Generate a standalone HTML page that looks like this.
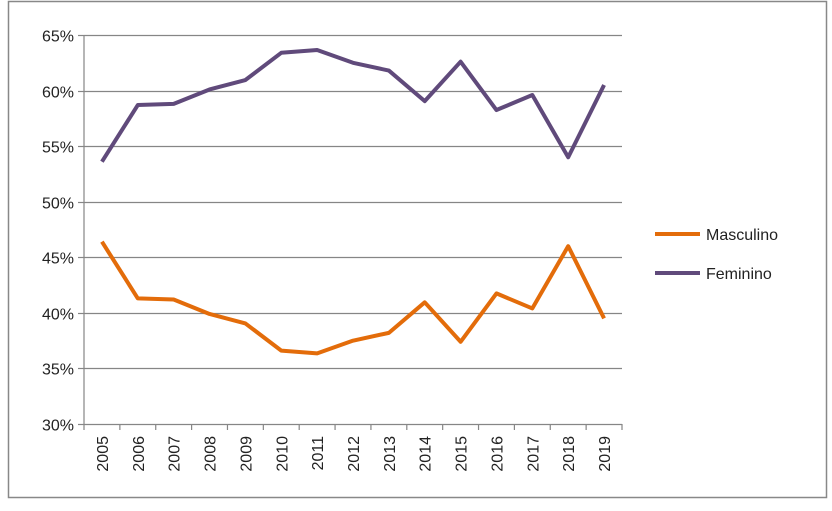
<!DOCTYPE html>
<html><head><meta charset="utf-8"><style>
body{margin:0;background:#fff;}
svg text{font-family:"Liberation Sans",sans-serif;font-size:16px;fill:#222;}
</style></head><body>
<svg width="832" height="506">
<rect x="8.5" y="1.5" width="818" height="496" fill="#fff" stroke="#888" stroke-width="1.5"/>
<g id="grid"></g><g id="axes"></g><g id="series"></g>
<g>
<line x1="655" y1="234" x2="700" y2="234" stroke="#E36C0A" stroke-width="4"/>
<text x="706" y="240">Masculino</text>
<line x1="655" y1="273" x2="700" y2="273" stroke="#604A7B" stroke-width="4"/>
<text x="706" y="279">Feminino</text>
</g>
</svg>
<script>
const categories=["2005","2006","2007","2008","2009","2010","2011","2012","2013","2014","2015","2016","2017","2018","2019"];
const masculino=[46.4,41.3,41.2,39.9,39.05,36.6,36.35,37.5,38.2,40.95,37.4,41.75,40.4,46.0,39.5];
const feminino=[53.6,58.7,58.8,60.1,60.95,63.4,63.65,62.5,61.8,59.05,62.6,58.25,59.6,54.0,60.5];
const yTicks=[30,35,40,45,50,55,60,65];
const X0=84,X1=622,Y0=424,Y1=35,ns="http://www.w3.org/2000/svg";
const bw=(X1-X0)/categories.length;
const xs=i=>X0+bw*(i+0.5);
const ys=v=>Y0-(v-30)/(65-30)*(Y0-Y1);
function mk(t,a,p){const e=document.createElementNS(ns,t);for(const k in a)e.setAttribute(k,a[k]);p.appendChild(e);return e;}
const g=document.getElementById('grid'),ax=document.getElementById('axes'),s=document.getElementById('series');
yTicks.forEach(v=>{
 const y=Math.round(ys(v))+0.5;
 if(v>30){const l=mk('line',{x1:X0,x2:X1,y1:y,y2:y,stroke:'#868686','stroke-width':1.2},g);
 
 }
 const tk=mk('line',{x1:X0-6,x2:X0,y1:y,y2:y,stroke:'#868686','stroke-width':1.2},ax);
 
 
 const t=mk('text',{x:X0-10,y:y+6,'text-anchor':'end'},ax);t.textContent=v+'%';
 
 
});
const ya=mk('line',{x1:X0,x2:X0,y1:Y1,y2:Y0,stroke:'#868686','stroke-width':1.2},ax);


const xa=mk('line',{x1:X0,x2:X1,y1:Y0+0.5,y2:Y0+0.5,stroke:'#868686','stroke-width':1.2},ax);


for(let i=0;i<=categories.length;i++){
 const x=X0+bw*i;
 const tk=mk('line',{x1:x,x2:x,y1:Y0,y2:Y0+6,stroke:'#868686','stroke-width':1.2},ax);
 
 
}
categories.forEach((c,i)=>{
 const x=xs(i)+6;
 const t=mk('text',{x:x,y:436,'text-anchor':'end',transform:`rotate(-90 ${x} 436)`},ax);t.textContent=c;
 
 
});
function line(d,col,name){
 const p=mk('polyline',{points:d.map((v,i)=>xs(i)+','+ys(v)).join(' '),fill:'none',stroke:col,'stroke-width':4,'stroke-linejoin':'round'},s);
 
 
}
line(masculino,'#E36C0A','series-masculino');
line(feminino,'#604A7B','series-feminino');
</script>
</body></html>
